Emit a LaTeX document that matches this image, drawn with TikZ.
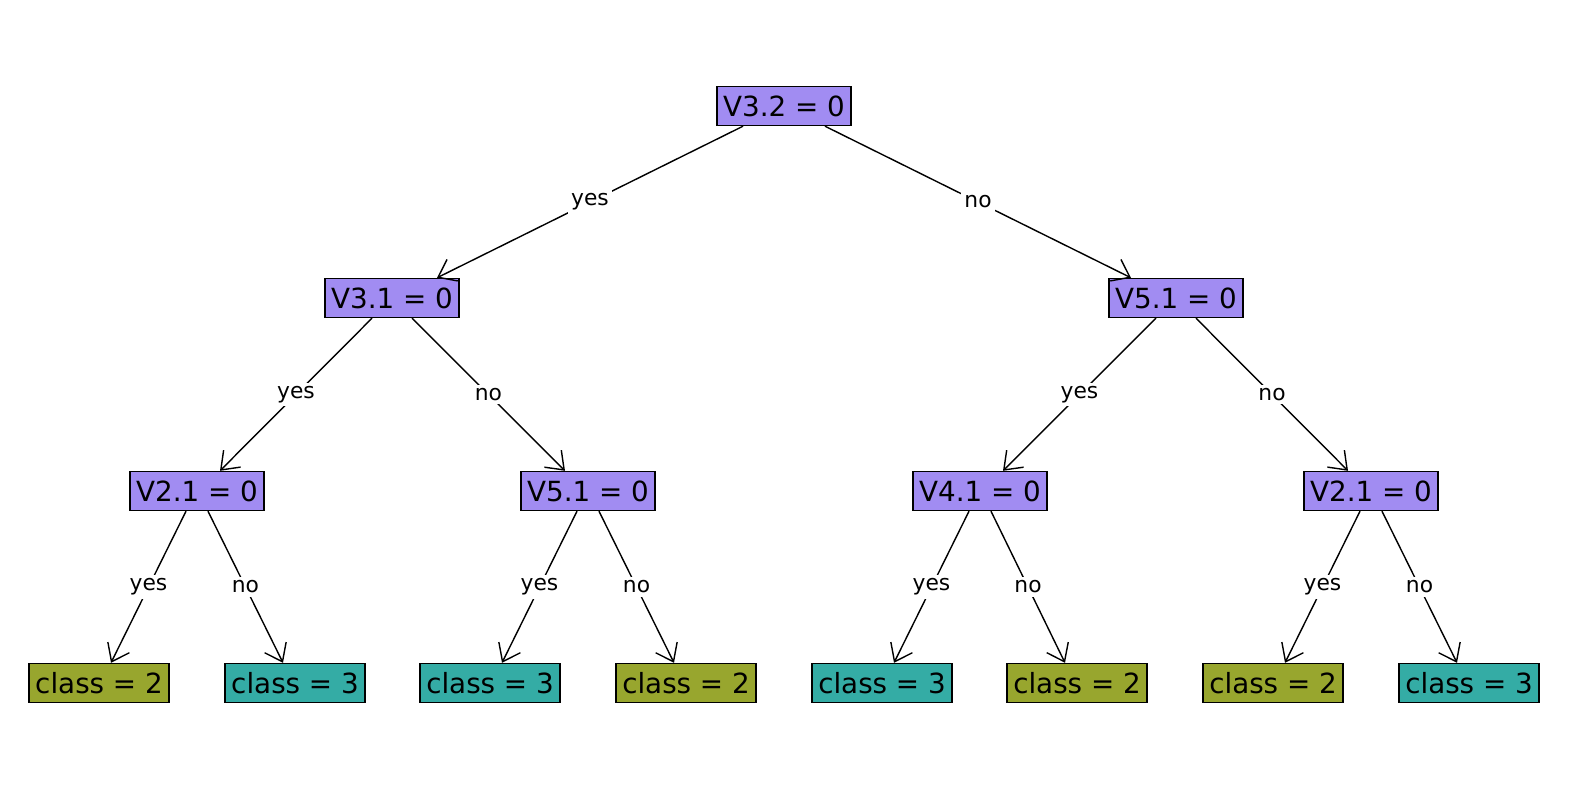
\documentclass[tikz,border=0pt]{standalone}
\usepackage{fontspec}
\setmainfont{DejaVu Sans}
\usetikzlibrary{arrows.meta}
\definecolor{splitc}{RGB}{161,140,242}
\definecolor{teal3}{RGB}{52,172,165}
\definecolor{olive2}{RGB}{152,166,46}
\tikzset{
  split/.style={draw, fill=splitc, inner sep=0pt, minimum width=1.34cm, minimum height=0.39cm, font=\fontsize{7.9}{9}\selectfont},
  leaf/.style={draw, fill=#1, inner sep=0pt, minimum width=1.40cm, minimum height=0.39cm, font=\fontsize{7.9}{9}\selectfont},
  edge/.style={-{Straight Barb[length=1.6mm,width=2.4mm]}, line width=0.4pt},
  lbl/.style={fill=white, inner sep=1pt, font=\fontsize{6.2}{7}\selectfont}
}
\begin{document}
\begin{tikzpicture}
\useasboundingbox (0,0) rectangle (15.70,7.90);
\node[split] (root) at (7.84,6.84) {V3.2 = 0};
\node[split] (a) at (3.92,4.92) {V3.1 = 0};
\node[split] (b) at (11.76,4.92) {V5.1 = 0};
\node[split] (aa) at (1.97,2.99) {V2.1 = 0};
\node[split] (ab) at (5.88,2.99) {V5.1 = 0};
\node[split] (ba) at (9.80,2.99) {V4.1 = 0};
\node[split] (bb) at (13.71,2.99) {V2.1 = 0};
\node[leaf=olive2] (l1) at (0.99,1.07) {class = 2};
\node[leaf=teal3] (l2) at (2.95,1.07) {class = 3};
\node[leaf=teal3] (l3) at (4.90,1.07) {class = 3};
\node[leaf=olive2] (l4) at (6.86,1.07) {class = 2};
\node[leaf=teal3] (l5) at (8.82,1.07) {class = 3};
\node[leaf=olive2] (l6) at (10.77,1.07) {class = 2};
\node[leaf=olive2] (l7) at (12.73,1.07) {class = 2};
\node[leaf=teal3] (l8) at (14.69,1.07) {class = 3};

\draw[edge] ([xshift=-4.1mm]root.south) -- node[lbl] {yes} ([xshift=4.5mm]a.north);
\draw[edge] ([xshift=4.1mm]root.south) -- node[lbl] {no} ([xshift=-4.5mm]b.north);

\draw[edge] ([xshift=-2mm]a.south) -- node[lbl] {yes} ([xshift=2.3mm]aa.north);
\draw[edge] ([xshift=2mm]a.south) -- node[lbl] {no} ([xshift=-2.3mm]ab.north);
\draw[edge] ([xshift=-2mm]b.south) -- node[lbl] {yes} ([xshift=2.3mm]ba.north);
\draw[edge] ([xshift=2mm]b.south) -- node[lbl] {no} ([xshift=-2.3mm]bb.north);

\draw[edge] ([xshift=-1.1mm]aa.south) -- node[lbl] {yes} ([xshift=1.2mm]l1.north);
\draw[edge] ([xshift=1.1mm]aa.south) -- node[lbl] {no} ([xshift=-1.2mm]l2.north);
\draw[edge] ([xshift=-1.1mm]ab.south) -- node[lbl] {yes} ([xshift=1.2mm]l3.north);
\draw[edge] ([xshift=1.1mm]ab.south) -- node[lbl] {no} ([xshift=-1.2mm]l4.north);
\draw[edge] ([xshift=-1.1mm]ba.south) -- node[lbl] {yes} ([xshift=1.2mm]l5.north);
\draw[edge] ([xshift=1.1mm]ba.south) -- node[lbl] {no} ([xshift=-1.2mm]l6.north);
\draw[edge] ([xshift=-1.1mm]bb.south) -- node[lbl] {yes} ([xshift=1.2mm]l7.north);
\draw[edge] ([xshift=1.1mm]bb.south) -- node[lbl] {no} ([xshift=-1.2mm]l8.north);
\end{tikzpicture}
\end{document}
